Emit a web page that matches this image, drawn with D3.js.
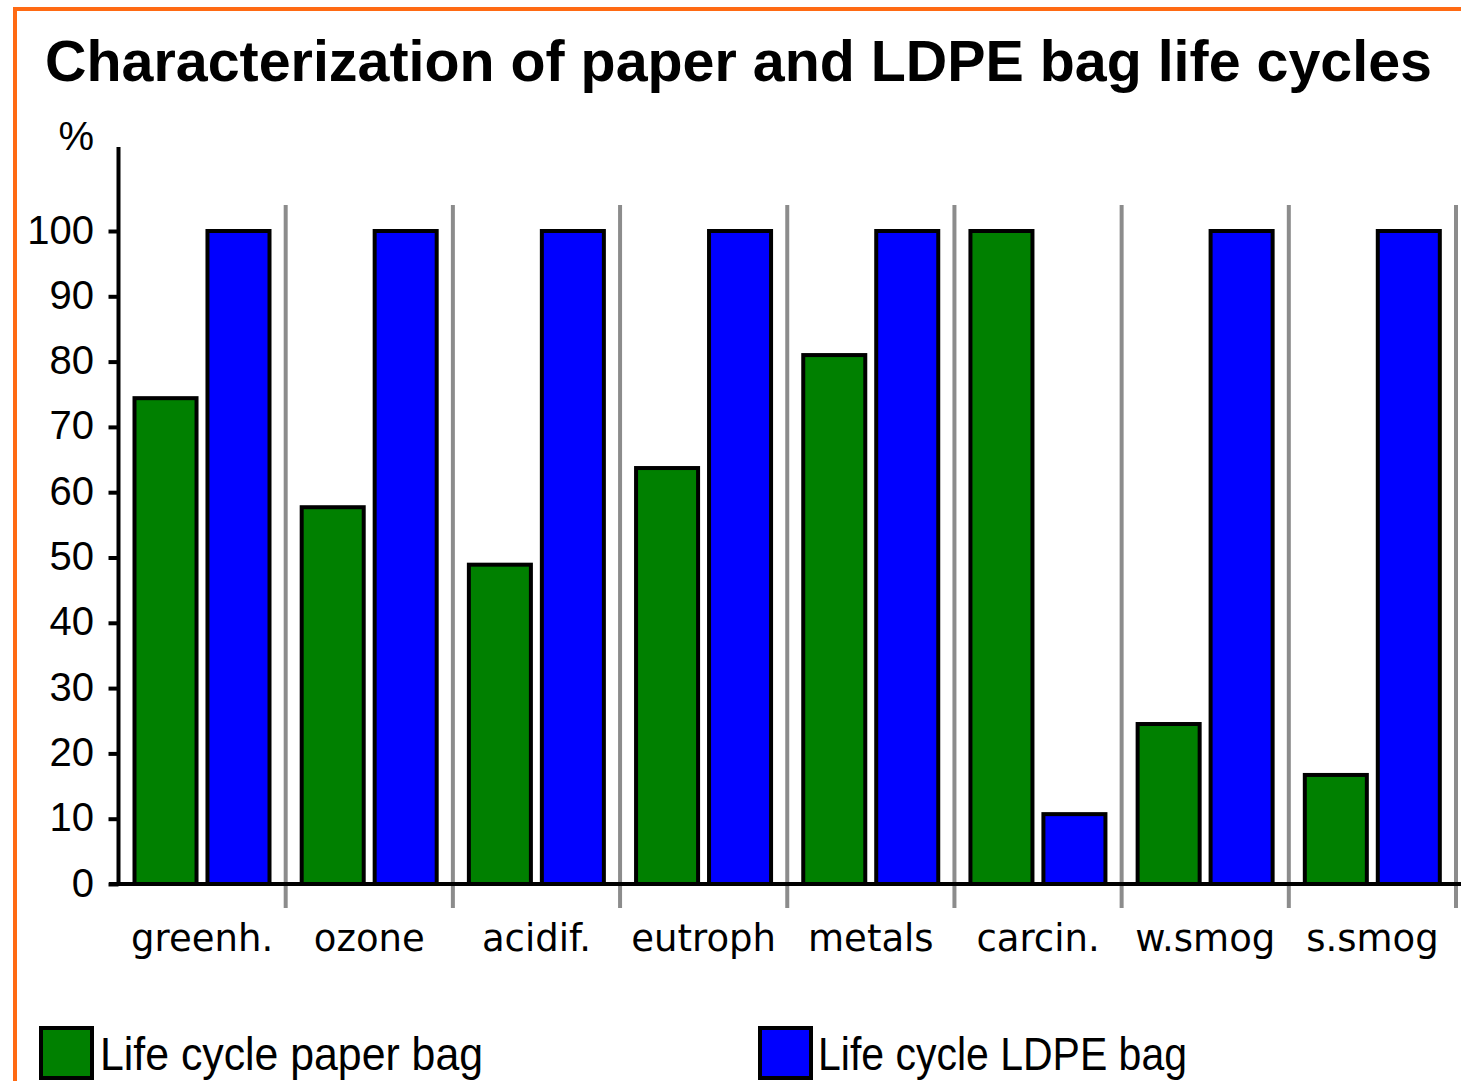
<!DOCTYPE html>
<html>
<head>
<meta charset="utf-8">
<script src="https://cdn.jsdelivr.net/npm/d3@7"></script>
<style>
  html, body { margin: 0; padding: 0; background: #fff; }
  svg { display: block; }
</style>
</head>
<body>
<svg id="chart" width="1461" height="1081"></svg>
<script>
// Impact categories and the characterization result (% of the larger life cycle)
const categories = ["greenh.", "ozone", "acidif.", "eutroph", "metals", "carcin.", "w.smog", "s.smog"];
const seriesNames = ["Life cycle paper bag", "Life cycle LDPE bag"];
const paperBag = [74.4, 57.7, 48.9, 63.7, 81, 100, 24.5, 16.7];
const ldpeBag = [100, 100, 100, 100, 100, 10.7, 100, 100];
const yTickValues = [0, 10, 20, 30, 40, 50, 60, 70, 80, 90, 100];
const yAxisLabel = "%";
const chartTitle = "Characterization of paper and LDPE bag life cycles";

const seriesColors = ["#008000", "#0000ff"];
const seriesValues = [paperBag, ldpeBag];

const svg = d3.select("#chart");

// Orange frame along the left and top edges
svg.append("path")
  .attr("d", "M15,1081 L15,9 L1461,9")
  .attr("fill", "none")
  .attr("stroke", "#ff6a13")
  .attr("stroke-width", 4);

// Title
svg.append("text")
  .attr("x", 45)
  .attr("y", 81)
  .attr("textLength", 1387)
  .attr("lengthAdjust", "spacingAndGlyphs")
  .style("font-family", "'Liberation Sans', Arial, sans-serif")
  .style("font-weight", "bold")
  .style("font-size", "58px")
  .attr("fill", "#000")
  .text(chartTitle);

// Scales
const axisX = 118.5;
const y = d3.scaleLinear().domain([0, 100]).range([884, 231]);
const x0 = d3.scaleBand().domain(categories).range([axisX, 1456]).padding(0);
const x1 = d3.scaleBand().domain(seriesNames).range([16, 151]).paddingInner(0.15).paddingOuter(0);

// Grey separators between category groups
svg.append("g")
  .selectAll("line")
  .data(categories)
  .join("line")
  .attr("x1", d => x0(d) + x0.bandwidth())
  .attr("x2", d => x0(d) + x0.bandwidth())
  .attr("y1", 205)
  .attr("y2", 908)
  .attr("stroke", "#8c8c8c")
  .attr("stroke-width", 4);

// Bars
const groups = svg.append("g")
  .selectAll("g")
  .data(categories)
  .join("g")
  .attr("transform", d => `translate(${x0(d)},0)`);

groups.selectAll("rect")
  .data((d, i) => seriesNames.map((s, k) => ({ series: s, value: seriesValues[k][i], color: seriesColors[k] })))
  .join("rect")
  .attr("x", d => x1(d.series))
  .attr("width", x1.bandwidth())
  .attr("y", d => y(d.value))
  .attr("height", d => y(0) - y(d.value))
  .attr("fill", d => d.color)
  .attr("stroke", "#000")
  .attr("stroke-width", 4);

// Y axis
const yAxis = svg.append("g")
  .attr("transform", `translate(${axisX},0)`)
  .call(d3.axisLeft(y).tickValues(yTickValues).tickSize(10).tickPadding(14.5).tickFormat(d3.format("d")));
yAxis.select(".domain").remove();
yAxis.selectAll(".tick line").attr("stroke", "#000").attr("stroke-width", 4);
yAxis.selectAll(".tick text")
  .attr("dy", "12px")
  .attr("fill", "#000")
  .style("font-family", "'Liberation Sans', Arial, sans-serif")
  .style("font-size", "40px");

// Vertical axis line
svg.append("line")
  .attr("x1", axisX).attr("x2", axisX)
  .attr("y1", 147).attr("y2", y(0) + 2)
  .attr("stroke", "#000")
  .attr("stroke-width", 4);

// Axis unit
svg.append("text")
  .attr("x", 94)
  .attr("y", 150)
  .attr("text-anchor", "end")
  .style("font-family", "'Liberation Sans', Arial, sans-serif")
  .style("font-size", "40px")
  .attr("fill", "#000")
  .text(yAxisLabel);

// Baseline
svg.append("line")
  .attr("x1", 109).attr("x2", 1461)
  .attr("y1", y(0)).attr("y2", y(0))
  .attr("stroke", "#000")
  .attr("stroke-width", 4);

// Category labels
const xAxis = svg.append("g")
  .attr("transform", `translate(0,${y(0)})`)
  .call(d3.axisBottom(x0).tickSize(0).tickPadding(0));
xAxis.select(".domain").remove();
xAxis.selectAll(".tick text")
  .attr("y", 67)
  .attr("dy", 0)
  .attr("fill", "#000")
  .style("font-family", "'DejaVu Sans', Verdana, sans-serif")
  .style("font-size", "37px");

// Legend
const legendPos = [{ x: 41, textX: 100, len: 383 }, { x: 760, textX: 818, len: 369 }];
const legend = svg.append("g")
  .selectAll("g")
  .data(seriesNames)
  .join("g");
legend.append("rect")
  .attr("x", (d, i) => legendPos[i].x)
  .attr("y", 1028)
  .attr("width", 51)
  .attr("height", 50)
  .attr("fill", (d, i) => seriesColors[i])
  .attr("stroke", "#000")
  .attr("stroke-width", 4);
legend.append("text")
  .attr("x", (d, i) => legendPos[i].textX)
  .attr("y", 1070)
  .attr("textLength", (d, i) => legendPos[i].len)
  .attr("lengthAdjust", "spacingAndGlyphs")
  .style("font-family", "'Liberation Sans', Arial, sans-serif")
  .style("font-size", "46px")
  .attr("fill", "#000")
  .text(d => d);
</script>
</body>
</html>
